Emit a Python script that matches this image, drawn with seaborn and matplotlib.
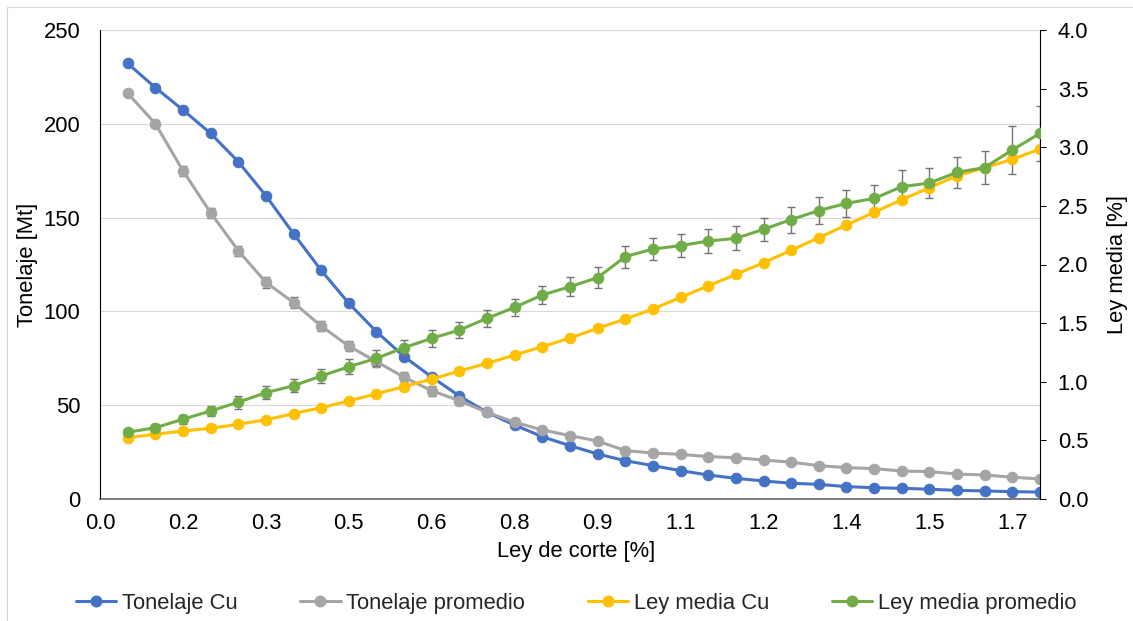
import numpy as np
import matplotlib
matplotlib.use("Agg")
import matplotlib.pyplot as plt
from matplotlib.patches import Rectangle
from matplotlib.lines import Line2D
import seaborn as sns

# Cut-off grade [%]
ley_corte = [0.05, 0.10, 0.15, 0.20, 0.25, 0.30, 0.35, 0.40, 0.45, 0.50,
             0.55, 0.60, 0.65, 0.70, 0.75, 0.80, 0.85, 0.90, 0.95, 1.00,
             1.05, 1.10, 1.15, 1.20, 1.25, 1.30, 1.35, 1.40, 1.45, 1.50,
             1.55, 1.60, 1.65, 1.70]

# Tonnage [Mt]
tonelaje_cu = [232.2, 219.3, 207.4, 194.9, 179.8, 161.7, 141.4, 121.9, 104.3, 89.2,
               75.9, 65.0, 54.9, 46.2, 39.4, 33.2, 28.4, 24.0, 20.4, 17.8,
               15.1, 12.8, 11.0, 9.6, 8.4, 7.8, 6.6, 6.0, 5.7, 5.2,
               4.6, 4.3, 3.9, 3.7]
tonelaje_promedio = [216.3, 200.1, 175.0, 152.6, 132.4, 115.5, 104.7, 92.2, 81.5, 73.2,
                     64.9, 57.7, 52.4, 46.2, 40.9, 36.8, 33.8, 30.9, 25.8, 24.5,
                     23.8, 22.6, 22.0, 20.8, 19.6, 17.8, 16.7, 16.2, 14.9, 14.6,
                     13.3, 12.8, 11.6, 10.7]
tonelaje_promedio_err = [1.5, 2.0, 2.6, 2.6, 2.7, 2.8, 2.8, 2.7, 2.7, 2.7,
                         2.7, 2.7, 2.5, 2.0, 1.5, 1.5, 1.5, 1.2, 1.2, 1.2,
                         1.0, 1.0, 1.0, 1.0, 1.0, 1.0, 1.0, 1.0, 1.0, 1.0,
                         1.0, 1.0, 1.0, 1.0]

# Mean grade [%]
ley_media_cu = [0.523, 0.552, 0.580, 0.603, 0.637, 0.676, 0.728, 0.779, 0.836, 0.898,
                0.958, 1.023, 1.092, 1.157, 1.228, 1.299, 1.373, 1.456, 1.535, 1.620,
                1.720, 1.817, 1.916, 2.015, 2.121, 2.229, 2.337, 2.445, 2.553, 2.655,
                2.757, 2.826, 2.897, 2.985]
ley_media_promedio = [0.569, 0.608, 0.680, 0.751, 0.825, 0.907, 0.966, 1.049, 1.128, 1.200,
                      1.291, 1.370, 1.441, 1.541, 1.635, 1.740, 1.811, 1.888, 2.067, 2.132,
                      2.161, 2.200, 2.223, 2.300, 2.383, 2.460, 2.522, 2.563, 2.664, 2.695,
                      2.786, 2.827, 2.977, 3.119]
ley_media_promedio_err = [0.030, 0.031, 0.037, 0.045, 0.054, 0.054, 0.057, 0.060, 0.062, 0.068,
                          0.067, 0.074, 0.068, 0.071, 0.075, 0.080, 0.082, 0.092, 0.094, 0.097,
                          0.100, 0.101, 0.102, 0.100, 0.111, 0.115, 0.115, 0.119, 0.142, 0.128,
                          0.135, 0.139, 0.205, 0.233]

x_tick_labels = ["0.0", "0.2", "0.3", "0.5", "0.6", "0.8", "0.9", "1.1", "1.2", "1.4", "1.5", "1.7"]
y_left_ticks = [0, 50, 100, 150, 200, 250]
y_right_ticks = [0.0, 0.5, 1.0, 1.5, 2.0, 2.5, 3.0, 3.5, 4.0]

series_names = ["Tonelaje Cu", "Tonelaje promedio", "Ley media Cu", "Ley media promedio"]
colors = ["#4472C4", "#A5A5A5", "#FFC000", "#70AD47"]
err_color = "#747474"

sns.set_theme(style="white")
plt.rcParams["font.family"] = ["Liberation Sans", "DejaVu Sans"]

DPI = 100
fig = plt.figure(figsize=(11.33, 6.21), dpi=DPI)
ax = fig.add_axes([100 / 1133, 1 - 499 / 621, 940 / 1133, 469 / 621])
ax2 = ax.twinx()

lw = 2.2
ms = 7.6

# primary axis: tonnage
ax.errorbar(ley_corte, tonelaje_promedio, yerr=tonelaje_promedio_err, fmt="none",
            ecolor=err_color, elinewidth=1.0, capsize=3.0, capthick=1.0, zorder=1)
sns.lineplot(x=ley_corte, y=tonelaje_cu, ax=ax, color=colors[0], marker="o",
             markersize=ms, markeredgecolor=colors[0], linewidth=lw, zorder=2)
sns.lineplot(x=ley_corte, y=tonelaje_promedio, ax=ax, color=colors[1], marker="o",
             markersize=ms, markeredgecolor=colors[1], linewidth=lw, zorder=3)

# secondary axis: mean grade
ax2.errorbar(ley_corte, ley_media_promedio, yerr=ley_media_promedio_err, fmt="none",
             ecolor=err_color, elinewidth=1.0, capsize=3.0, capthick=1.0, zorder=1)
sns.lineplot(x=ley_corte, y=ley_media_cu, ax=ax2, color=colors[2], marker="o",
             markersize=ms, markeredgecolor=colors[2], linewidth=lw, zorder=2)
sns.lineplot(x=ley_corte, y=ley_media_promedio, ax=ax2, color=colors[3], marker="o",
             markersize=ms, markeredgecolor=colors[3], linewidth=lw, zorder=3)

# axes limits and ticks
ax.set_xlim(0, 1.70)
ax.set_ylim(0, 250)
ax2.set_ylim(0, 4.0)
ax.set_xticks(np.arange(len(x_tick_labels)) * 0.15)
ax.set_xticklabels(x_tick_labels)
ax.set_yticks(y_left_ticks)
ax2.set_yticks(y_right_ticks)
ax2.set_yticklabels([f"{v:.1f}" for v in y_right_ticks])

tick_fs = 15.8
label_fs = 15.8
ax.tick_params(axis="x", length=0, pad=10, labelsize=tick_fs, colors="#000000")
ax.tick_params(axis="y", length=0, pad=14, labelsize=tick_fs, colors="#000000")
ax2.tick_params(axis="y", direction="out", length=4.3, width=0.75, pad=8.5,
                labelsize=tick_fs, colors="#000000")

ax.yaxis.grid(True, color="#D9D9D9", linewidth=0.8)
ax.xaxis.grid(False)
ax.set_axisbelow(True)

for s in ["top", "right"]:
    ax.spines[s].set_visible(False)
ax.spines["left"].set_color("#000000")
ax.spines["left"].set_linewidth(0.8)
ax.spines["bottom"].set_color("#595959")
ax.spines["bottom"].set_linewidth(1.1)
for s in ["top", "left", "bottom"]:
    ax2.spines[s].set_visible(False)
ax2.spines["right"].set_color("#000000")
ax2.spines["right"].set_linewidth(0.8)

ax.set_xlabel("Ley de corte [%]", fontsize=label_fs, color="#000000")
ax.set_ylabel("Tonelaje [Mt]", fontsize=label_fs, color="#000000")
ax2.set_ylabel("Ley media [%]", fontsize=label_fs, color="#000000")
ax.xaxis.set_label_coords((576 - 100) / 940, (499 - 552) / 469)
ax.xaxis.label.set_va("center")
ax.yaxis.set_label_coords((28 - 100) / 940, 0.5)
ax.yaxis.label.set_va("center")
ax2.yaxis.set_label_coords((1117 - 100) / 940, 0.5)
ax2.yaxis.label.set_va("center")

for a in (ax, ax2):
    if a.get_legend() is not None:
        a.get_legend().remove()

handles = [Line2D([], [], color=c, marker="o", markersize=ms, markeredgecolor=c,
                  linewidth=lw) for c in colors]
fig.legend(handles, series_names, loc="center", ncol=4,
           bbox_to_anchor=(576 / 1133, 1 - 603 / 621), frameon=False,
           fontsize=label_fs, handlelength=1.85, handletextpad=0.25,
           columnspacing=2.85, borderaxespad=0)

# chart area border
fig.patches.append(Rectangle((7 / 1133, -0.2), 1.2, 1.2 - 7 / 621,
                             transform=fig.transFigure, fill=False,
                             edgecolor="#D9D9D9", linewidth=0.8))

fig.savefig("out.png", dpi=DPI, facecolor="white")
